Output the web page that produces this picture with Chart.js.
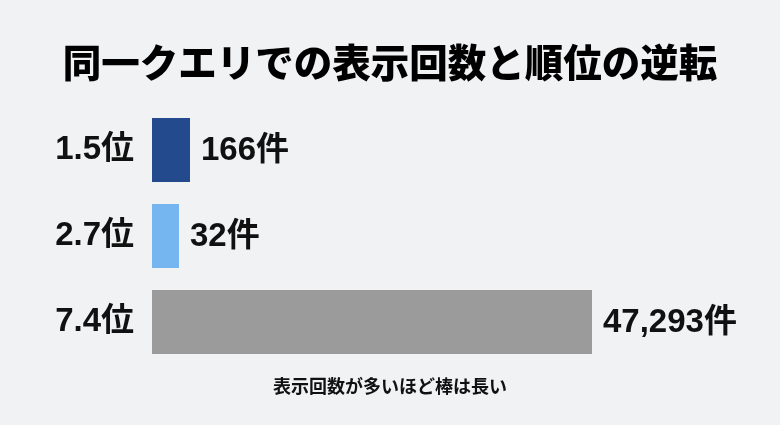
<!DOCTYPE html>
<html>
<head>
<meta charset="utf-8">
<script src="https://cdn.jsdelivr.net/npm/chart.js@4.4.1/dist/chart.umd.min.js"></script>
<style>
  html, body { margin: 0; padding: 0; background: #f1f2f4; }
  #wrap { width: 780px; height: 425px; }
</style>
</head>
<body>
<div id="wrap"><canvas id="rankChart"></canvas></div>
<script>
// data
var ranks = ['1.5位', '2.7位', '7.4位'];
var counts = [166, 32, 47293];
var countLabels = ['166件', '32件', '47,293件'];
var barColors = ['#234a8c', '#76b6f0', '#9b9b9b'];
var minLengths = [38, 27, 0]; // short bars still shown as in the picture

var CJK = '"Noto Sans CJK JP", sans-serif';
var FONT = '"Liberation Sans", "Noto Sans CJK JP", sans-serif';

// one dataset per bar so each can keep its own min length
var datasets = counts.map(function(v, i) {
    return {
        data: counts.map(function(c, j) { return j === i ? c : null; }),
        backgroundColor: barColors[i],
        minBarLength: minLengths[i],
        barPercentage: 0.745,
        categoryPercentage: 1,
        grouped: false
    };
});

var labelPlugin = {
    id: 'labels',
    afterDatasetsDraw: function(chart) {
        var ctx = chart.ctx;
        ctx.save();
        ctx.fillStyle = '#111';
        ctx.textBaseline = 'middle';
        ctx.textAlign = 'left';
        ctx.font = 'bold 33px ' + FONT;
        chart.data.datasets.forEach(function(ds, i) {
            var el = chart.getDatasetMeta(i).data[i];
            ctx.fillText(countLabels[i], el.x + 11, el.y + 1);
        });
        // title
        ctx.textAlign = 'center';
        ctx.fillStyle = '#000';
        ctx.font = '900 38.5px ' + CJK;
        ctx.fillText('同一クエリでの表示回数と順位の逆転', 390, 62);
        // caption under the bars
        ctx.fillStyle = '#111';
        ctx.font = 'bold 18px ' + CJK;
        ctx.fillText('表示回数が多いほど棒は長い', 390, 386);
        ctx.restore();
    }
};

var ctx = document.getElementById('rankChart').getContext('2d');
var rankChart = new Chart(ctx, {
    type: 'bar',
    data: {
        labels: ranks,
        datasets: datasets
    },
    options: {
        indexAxis: 'y',
        responsive: true,
        maintainAspectRatio: false,
        animation: false,
        layout: {
            padding: { left: 0, right: 188, top: 107, bottom: 60 }
        },
        scales: {
            x: {
                display: false,
                min: 0,
                max: Math.max.apply(null, counts)
            },
            y: {
                grid: { display: false, drawTicks: false },
                border: { display: false },
                ticks: {
                    color: '#111',
                    padding: 18,
                    font: { family: FONT, size: 33, weight: 'bold' }
                },
                afterFit: function(scale) { scale.width = 152; }
            }
        },
        plugins: {
            legend: { display: false },
            tooltip: { enabled: false },
            title: { display: false }
        }
    },
    plugins: [labelPlugin]
});
</script>
</body>
</html>
